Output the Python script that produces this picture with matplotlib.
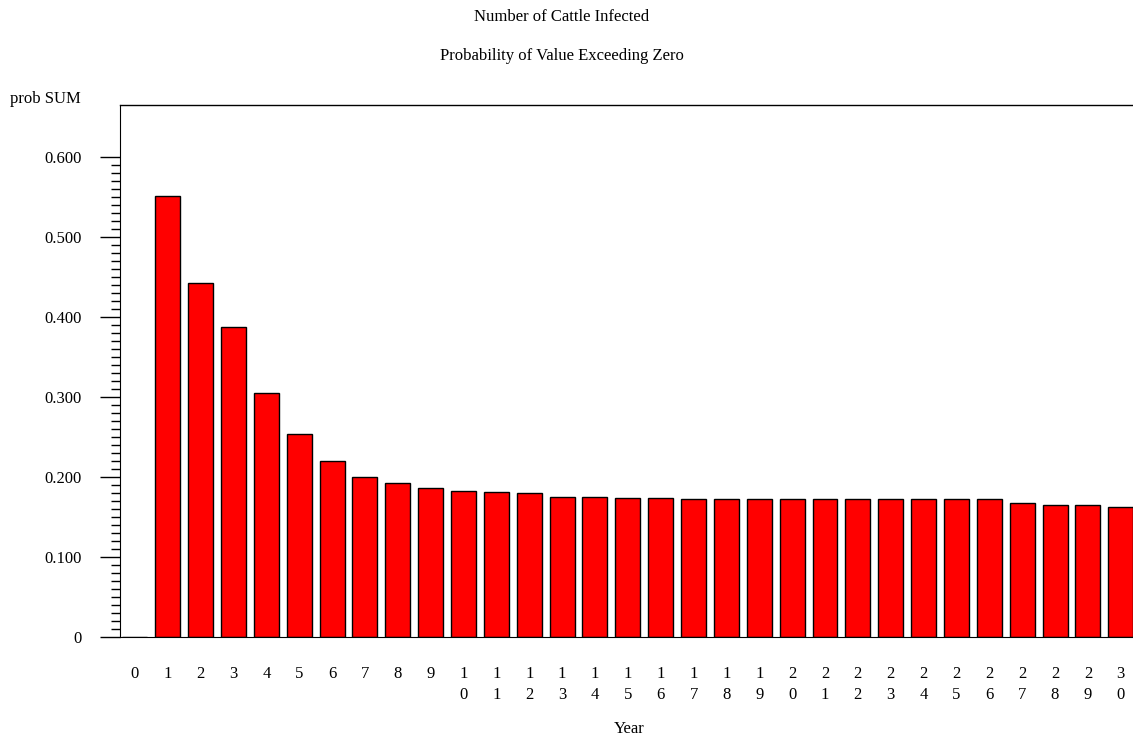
import matplotlib.pyplot as plt
from matplotlib.ticker import FixedLocator

plt.rcParams['font.family'] = ['Liberation Serif', 'DejaVu Serif']
plt.rcParams['font.size'] = 12

# probability per year (year 0 has no bar)
years = list(range(0, 31))
prob = [0.0, 0.551, 0.4425, 0.3875, 0.305, 0.254, 0.220, 0.200, 0.1925, 0.1866,
        0.182, 0.181, 0.1796, 0.1754, 0.1754, 0.174, 0.174, 0.1725, 0.1725, 0.1725,
        0.1725, 0.1725, 0.1725, 0.1725, 0.1725, 0.1725, 0.1725, 0.168, 0.165, 0.165,
        0.1625]
year_labels = ['\n'.join(str(y)) for y in years]
ytick_vals = [0, 0.1, 0.2, 0.3, 0.4, 0.5, 0.6]
ytick_labels = ['0', '0.100', '0.200', '0.300', '0.400', '0.500', '0.600']

W, H = 1133, 740
fig = plt.figure(figsize=(W / 100, H / 100), dpi=100)
# axes in pixel terms: left 120, bottom 637, top 105, one year = 32.86 px
ax = fig.add_axes([119.5 / W, (H - 637) / H, 31 * 32.86 / W, (637 - 105) / H])

ax.bar(years, prob, width=0.76, color='#ff0000', edgecolor='black', linewidth=1)

ax.set_xlim(-0.47, 30.53)
ax.set_ylim(0, 0.665)

ax.spines['right'].set_visible(False)
ax.spines['top'].set_linewidth(1)

ax.set_xticks(years)
ax.set_xticklabels(year_labels, linespacing=1.42)
ax.tick_params(axis='x', length=0, pad=21)

ax.set_yticks(ytick_vals)
ax.set_yticklabels(ytick_labels)
# minor ticks every 0.01, only up to the 0.600 tick
ax.yaxis.set_minor_locator(FixedLocator([i / 100 for i in range(61)]))
ax.tick_params(axis='y', which='major', direction='out', length=14.5, width=1, pad=13)
ax.tick_params(axis='y', which='minor', direction='out', length=6.5, width=1)

ax.set_xlabel('Year', labelpad=13)

fig.text(562 / W, 1 - 17 / H, 'Number of Cattle Infected', ha='center', va='center')
fig.text(562 / W, 1 - 56 / H, 'Probability of Value Exceeding Zero', ha='center', va='center')
fig.text(10 / W, 1 - 99 / H, 'prob SUM', ha='left', va='center')

fig.savefig('out.png', dpi=100)
